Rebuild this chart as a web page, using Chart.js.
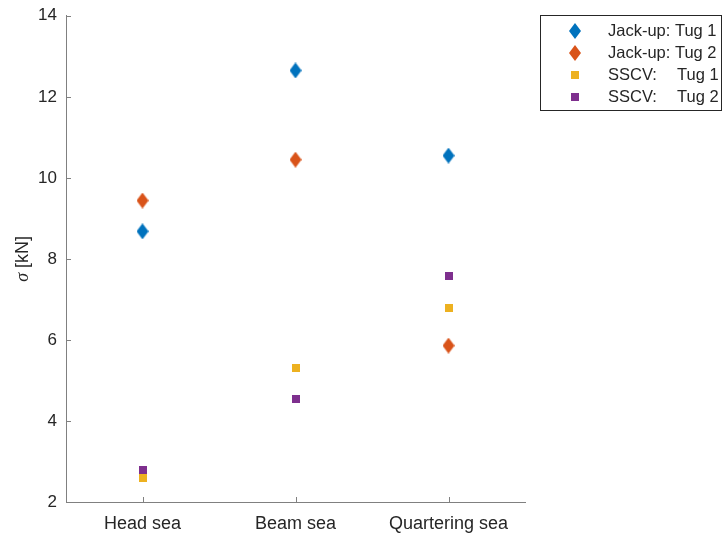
<!DOCTYPE html>
<html>
<head>
<meta charset="utf-8">
<script src="https://cdn.jsdelivr.net/npm/chart.js@4.4.1/dist/chart.umd.min.js"></script>
<style>
  html, body { margin: 0; padding: 0; background: #fff; }
  #wrap { position: relative; width: 723px; height: 535px; }
</style>
</head>
<body>
<div id="wrap"><canvas id="chart" width="723" height="535"></canvas></div>
<script>
// data
const categories = ['Head sea', 'Beam sea', 'Quartering sea'];
const jackupTug1 = [8.68, 12.65, 10.55];
const jackupTug2 = [9.44, 10.45, 5.86];
const sscvTug1 = [2.59, 5.30, 6.78];
const sscvTug2 = [2.79, 4.54, 7.57];
const yTicks = [2, 4, 6, 8, 10, 12, 14];

const FONT = '"Liberation Sans", Arial, Helvetica, sans-serif';
const TEXT = '#262626';
const AXIS = '#808080';

// marker images (MATLAB style: tall diamond, small square)
function diamond(color) {
    const c = document.createElement('canvas');
    c.width = 12; c.height = 16;
    const g = c.getContext('2d');
    g.fillStyle = color;
    g.beginPath();
    g.moveTo(6, 0); g.lineTo(12, 8); g.lineTo(6, 16); g.lineTo(0, 8);
    g.closePath();
    g.fill();
    return c;
}
function square(color) {
    const c = document.createElement('canvas');
    c.width = 8; c.height = 8;
    const g = c.getContext('2d');
    g.fillStyle = color;
    g.fillRect(0, 0, 8, 8);
    return c;
}

const series = [
    { label: 'Jack-up: Tug 1', data: jackupTug1, color: '#0072BD', marker: diamond('#0072BD') },
    { label: 'Jack-up: Tug 2', data: jackupTug2, color: '#D95319', marker: diamond('#D95319') },
    { label: 'SSCV:', label2: 'Tug 1', data: sscvTug1, color: '#EDB120', marker: square('#EDB120') },
    { label: 'SSCV:', label2: 'Tug 2', data: sscvTug2, color: '#7E2F8E', marker: square('#7E2F8E') }
];

// inward tick marks + y title + legend box
const matlabAxes = {
    id: 'matlabAxes',
    afterDraw(chart) {
        const ctx = chart.ctx;
        const x = chart.scales.x, y = chart.scales.y;
        const area = chart.chartArea;
        ctx.save();
        ctx.strokeStyle = AXIS;
        ctx.lineWidth = 1;
        ctx.beginPath();
        yTicks.forEach(v => {
            const py = Math.round(y.getPixelForValue(v)) + 0.5;
            ctx.moveTo(area.left, py);
            ctx.lineTo(area.left + 5, py);
        });
        categories.forEach((c, i) => {
            const px = Math.round(x.getPixelForValue(i)) + 0.5;
            ctx.moveTo(px, area.bottom);
            ctx.lineTo(px, area.bottom - 5);
        });
        ctx.stroke();

        // y axis title
        ctx.fillStyle = TEXT;
        ctx.translate(23, (area.top + area.bottom) / 2);
        ctx.rotate(-Math.PI / 2);
        ctx.textBaseline = 'middle';
        const sig = 'σ';
        const rest = ' [kN]';
        ctx.font = '18px ' + FONT;
        const wRest = ctx.measureText(rest).width;
        ctx.font = 'italic 18px "Liberation Serif", serif';
        const wSig = ctx.measureText(sig).width;
        const start = -(wSig + wRest) / 2;
        ctx.textAlign = 'left';
        ctx.fillText(sig, start, 0);
        ctx.font = '18px ' + FONT;
        ctx.fillText(rest, start + wSig, 0);
        ctx.restore();

        // legend
        ctx.save();
        ctx.strokeStyle = TEXT;
        ctx.lineWidth = 1;
        ctx.fillStyle = '#fff';
        ctx.fillRect(540.5, 15.5, 181, 95);
        ctx.strokeRect(540.5, 15.5, 181, 95);
        ctx.font = '16.5px ' + FONT;
        ctx.fillStyle = TEXT;
        ctx.textBaseline = 'middle';
        ctx.textAlign = 'left';
        const rows = [31, 53, 75, 97];
        series.forEach((s, i) => {
            const m = s.marker;
            ctx.drawImage(m, 575 - m.width / 2, rows[i] - m.height / 2);
            ctx.fillText(s.label, 608, rows[i]);
            if (s.label2) ctx.fillText(s.label2, 677, rows[i]);
        });
        ctx.restore();
    }
};

new Chart(document.getElementById('chart'), {
    type: 'line',
    data: {
        labels: categories,
        datasets: series.map(s => ({
            label: s.label,
            data: s.data,
            showLine: false,
            pointStyle: s.marker,
            pointBackgroundColor: s.color,
            pointBorderColor: s.color,
            pointRadius: 6
        }))
    },
    options: {
        responsive: false,
        animation: false,
        layout: { padding: { top: 15, right: 198, left: 0, bottom: 0 } },
        plugins: {
            legend: { display: false },
            tooltip: { enabled: false }
        },
        scales: {
            x: {
                type: 'category',
                offset: true,
                grid: { display: false, drawTicks: false, tickLength: 0 },
                border: { display: true, color: AXIS, width: 1 },
                ticks: { color: TEXT, font: { family: FONT, size: 18 }, padding: 11, maxRotation: 0 },
                afterFit(scale) { scale.height = 33; }
            },
            y: {
                min: 2,
                max: 14,
                grid: { display: false, drawTicks: false, tickLength: 0 },
                border: { display: true, color: AXIS, width: 1 },
                afterBuildTicks(scale) { scale.ticks = yTicks.map(v => ({ value: v })); },
                ticks: { color: TEXT, font: { family: FONT, size: 17, lineHeight: 0.8 }, padding: 9 },
                afterFit(scale) { scale.width = 66; }
            }
        }
    },
    plugins: [matlabAxes]
});
</script>
</body>
</html>
